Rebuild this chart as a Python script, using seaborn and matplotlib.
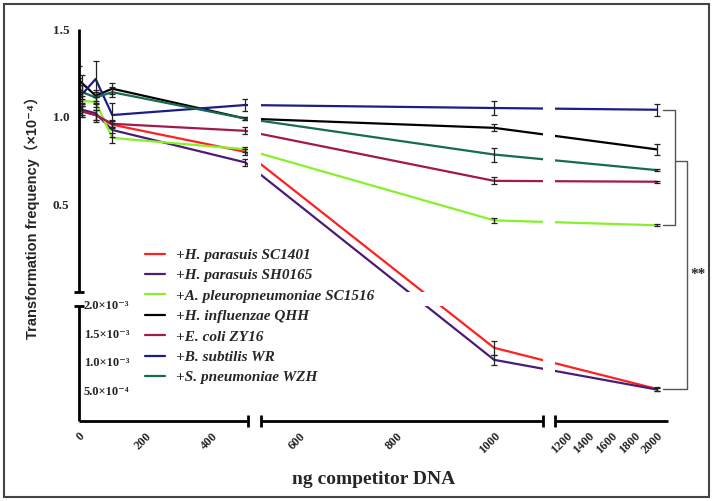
import numpy as np
import pandas as pd
import matplotlib
matplotlib.use('Agg')
import matplotlib.pyplot as plt
from matplotlib.patches import Rectangle
import seaborn as sns

# ---- data (frequency in units of 1e-4; tiny values sit on the lower broken segment) ----
dna = [0, 10, 50, 100, 500, 1000, 2000]

strains = ['+H. parasuis SC1401', '+H. parasuis SH0165', '+A. pleuropneumoniae SC1516',
           '+H. influenzae QHH', '+E. coli ZY16', '+B. subtilis WR', '+S. pneumoniae WZH']

sc1401 = [1.05, 1.03, 1.01, 0.955, 0.80, 1.27e-3, 0.55e-3]
sh0165 = [1.07, 1.04, 1.02, 0.925, 0.74, 1.06e-3, 0.54e-3]
sc1516 = [1.10, 1.09, 1.085, 0.88, 0.815, 0.41, 0.382]
qhh = [1.21, 1.19, 1.12, 1.16, 0.99, 0.937, 0.814]
zy16 = [1.06, 1.03, 1.01, 0.96, 0.92, 0.635, 0.63]
wr = [1.12, 1.13, 1.215, 1.01, 1.067, 1.05, 1.04]
wzh = [1.16, 1.14, 1.11, 1.14, 0.99, 0.785, 0.696]

sc1401_err = [0.04, 0.03, 0.03, 0.02, 0.015, 0.12e-3, 0.03e-3]
sh0165_err = [0.05, 0.03, 0.05, 0.04, 0.02, 0.09e-3, 0.03e-3]
sc1516_err = [0.05, 0.03, 0.03, 0.03, 0.015, 0.015, 0.005]
qhh_err = [0.08, 0.05, 0.03, 0.03, 0.01, 0.02, 0.033]
zy16_err = [0.05, 0.03, 0.03, 0.02, 0.02, 0.02, 0.005]
wr_err = [0.10, 0.05, 0.10, 0.07, 0.033, 0.038, 0.033]
wzh_err = [0.06, 0.04, 0.03, 0.03, 0.01, 0.04, 0.005]

values = [sc1401, sh0165, sc1516, qhh, zy16, wr, wzh]
errors = [sc1401_err, sh0165_err, sc1516_err, qhh_err, zy16_err, wr_err, wzh_err]
colors = ['#ff2020', '#4a1c78', '#86f02a', '#000000', '#a3194c', '#1c1c8a', '#176b4f']

top_ticks = [0.5, 1.0, 1.5]
top_labels = ['0.5', '1.0', '1.5']
low_ticks = [5e-4, 1e-3, 1.5e-3, 2e-3]
low_labels = ['5.0×10⁻⁴', '1.0×10⁻³', '1.5×10⁻³', '2.0×10⁻³']
x_ticks = [0, 200, 400, 600, 800, 1000, 1200, 1400, 1600, 1800, 2000]

# ---- broken axes as piecewise-linear scales ----
XB = [0, 508, 522, 1100, 1104, 2096]
XP = [0, 168.9, 182.0, 463.75, 476.1, 588.9]
YB = [0, 0.002, 0.0020001, 1.5]
YP = [0, 114.5, 128.5, 391.5]


def fx(v):
    return np.interp(v, XB, XP)


def fx_inv(p):
    return np.interp(p, XP, XB)


def fy(v):
    return np.interp(v, YB, YP)


def fy_inv(p):
    return np.interp(p, YP, YB)


rows = []
for s, vals in zip(strains, values):
    for x, v in zip(dna, vals):
        rows.append({'dna': x, 'freq': v, 'strain': s})
df = pd.DataFrame(rows)

sns.set_style('white')
serif = ['Liberation Serif', 'DejaVu Serif']

fig = plt.figure(figsize=(7.14, 5.01), dpi=100)
ax = fig.add_axes([79 / 714, 80.5 / 501, 589 / 714, 391.5 / 501])
ax.set_xscale('function', functions=(fx, fx_inv))
ax.set_yscale('function', functions=(fy, fy_inv))

sns.lineplot(data=df, x='dna', y='freq', hue='strain', palette=colors,
             hue_order=strains, estimator=None, sort=False, lw=1.6, ax=ax)
for vals, errs in zip(values, errors):
    ax.errorbar(dna, vals, yerr=errs, fmt='none', ecolor='#222222',
                elinewidth=0.9, capsize=2.4, capthick=0.9, zorder=3)

ax.set_xlim(0, 2096)
ax.set_ylim(0, 1.5)

# gaps of the broken axes
ax.axvspan(508, 522, color='white', zorder=4, lw=0)
ax.axvspan(1100, 1104, color='white', zorder=4, lw=0)
ax.axhspan(0.002, 0.0020001, color='white', zorder=4, lw=0)

for s in ax.spines.values():
    s.set_visible(False)
for a, b in [(0, 508), (522, 1100), (1104, 2096)]:
    ax.plot([a, b], [0, 0], color='black', lw=2, clip_on=False, zorder=6,
            solid_capstyle='butt')
ax.plot([508, 522, 1100, 1104], [0, 0, 0, 0], ls='none', marker='|', ms=9, mew=2,
        color='black', clip_on=False, zorder=6)
for a, b in [(0, 0.002), (0.0020001, 1.5)]:
    ax.plot([0, 0], [a, b], color='black', lw=2, clip_on=False, zorder=6,
            solid_capstyle='butt')
ax.plot([0, 0], [0.002, 0.0020001], ls='none', marker='_', ms=7, mew=2,
        color='black', clip_on=False, zorder=6)

ax.set_xticks(x_ticks)
ax.set_xticklabels([str(t) for t in x_ticks], rotation=45, ha='right',
                   rotation_mode='anchor', family=serif, fontweight='bold', fontsize=9)
ax.set_yticks(low_ticks[:3] + top_ticks)
ax.set_yticklabels(['', '', ''] + top_labels, family=serif, fontweight='bold', fontsize=9.5)
ax.tick_params(axis='both', direction='out', length=4, width=1.6, color='black', pad=3)
for t, lab in zip(low_ticks, low_labels):
    ax.text(0.008, t, lab, transform=ax.get_yaxis_transform(), ha='left', va='center',
            family=serif, fontweight='bold', fontsize=9, zorder=8)

ax.set_xlabel('ng competitor DNA', family=serif, fontweight='bold', fontsize=14)
ax.set_ylabel('Transformation frequency（×10⁻⁴）',
              family=['Liberation Sans', 'DejaVu Sans', 'Noto Sans CJK SC'],
              fontweight='bold', fontsize=10.5)
ax.yaxis.set_label_coords(-0.066, 0.527)
ax.xaxis.set_label_coords(0.5, -0.13)

leg = ax.legend(loc='upper left', bbox_to_anchor=(0.112, 0.44), frameon=False,
                borderpad=0, borderaxespad=0, handlelength=1.3, handletextpad=0.7,
                labelspacing=0.44, prop={'family': serif, 'weight': 'bold',
                                         'style': 'italic', 'size': 11})
leg.set_zorder(7)

# significance brackets
tr = ax.get_yaxis_transform()
top_y, bot_y, mid_y = wr[-1], sc1516[-1], 0.75
ax.plot([0.9915, 1.012, 1.012, 0.9915], [top_y, top_y, bot_y, bot_y], color='#555555',
        lw=1, transform=tr, clip_on=False)
ax.plot([1.012, 1.032, 1.032, 0.9915], [mid_y, mid_y, sc1401[-1], sc1401[-1]],
        color='#555555', lw=1, transform=tr, clip_on=False)
ax.text(1.051, 0.10, '**', transform=tr, ha='center', va='center', family=serif,
        fontweight='bold', fontsize=11)

fig.add_artist(Rectangle((4 / 714, 4 / 501), 705 / 714, 493 / 501, transform=fig.transFigure,
                         fill=False, ec='#444444', lw=1.5))

fig.savefig('out.png', dpi=100)
